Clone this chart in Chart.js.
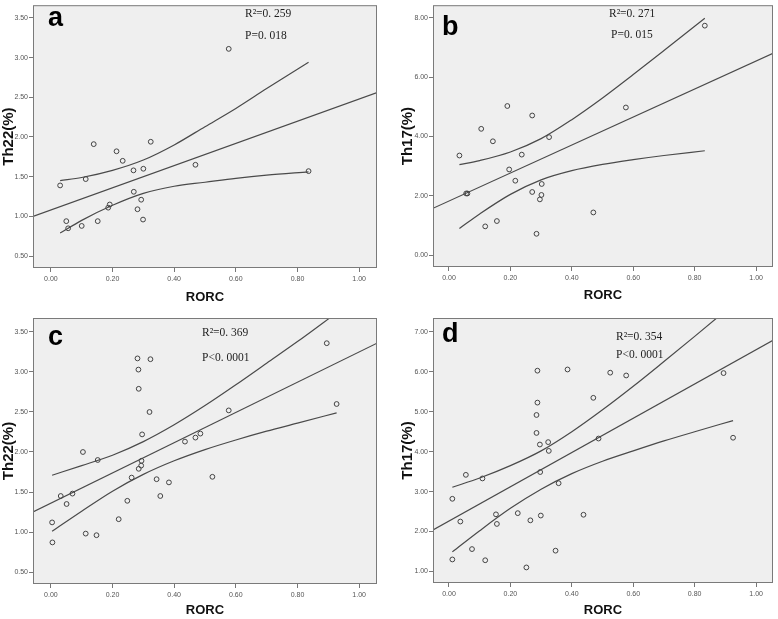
<!DOCTYPE html>
<html><head><meta charset="utf-8">
<script src="https://cdn.jsdelivr.net/npm/chart.js@4.4.1/dist/chart.umd.min.js"></script>
<style>
html,body{margin:0;padding:0;background:#fff;width:778px;height:619px;overflow:hidden}
canvas{position:absolute;display:block}
</style></head><body>
<canvas id="pa" width="389" height="305" style="left:0;top:0"></canvas>
<canvas id="pb" width="389" height="305" style="left:389px;top:0"></canvas>
<canvas id="pc" width="389" height="314" style="left:0;top:305px"></canvas>
<canvas id="pd" width="389" height="314" style="left:389px;top:305px"></canvas>
<script>
// ---------- data ----------
const xTickValues = [0, 0.2, 0.4, 0.6, 0.8, 1.0];
const aYTicks = [0.5, 1.0, 1.5, 2.0, 2.5, 3.0, 3.5];
const bYTicks = [0, 2, 4, 6, 8];
const cYTicks = [0.5, 1.0, 1.5, 2.0, 2.5, 3.0, 3.5];
const dYTicks = [1, 2, 3, 4, 5, 6, 7];

// panel a : RORC vs Th22 (n=21)
const aRORC = [0.030,0.050,0.056,0.100,0.113,0.139,0.152,0.186,0.191,0.213,0.233,0.268,0.269,0.281,0.293,0.299,0.300,0.324,0.469,0.577,0.836];
const aTh22 = [1.39,0.94,0.85,0.88,1.47,1.91,0.94,1.11,1.15,1.82,1.70,1.58,1.31,1.09,1.21,0.96,1.60,1.94,1.65,3.11,1.57];
const aFitX = [-0.058, 1.058];
const aFitY = [1.00, 2.56];
const aBandX = [0.03,0.1,0.2,0.3,0.4,0.5,0.6,0.7,0.836];
const aUpper = [1.45,1.49,1.58,1.71,1.90,2.13,2.36,2.61,2.94];
const aLower = [0.79,0.95,1.14,1.29,1.38,1.43,1.48,1.52,1.56];

// panel b : RORC vs Th17 (n=21)
const bRORC = [0.034,0.056,0.060,0.105,0.118,0.143,0.156,0.190,0.196,0.216,0.237,0.271,0.271,0.285,0.296,0.301,0.302,0.326,0.470,0.576,0.833];
const bTh17 = [3.36,2.08,2.08,4.26,0.97,3.84,1.15,5.03,2.89,2.51,3.39,4.71,2.13,0.72,1.88,2.03,2.40,3.98,1.44,4.98,7.74];
const bFitX = [-0.052, 1.055];
const bFitY = [1.58, 6.81];
const bBandX = [0.034,0.1,0.2,0.3,0.4,0.5,0.6,0.7,0.833];
const bUpper = [3.05,3.19,3.48,3.93,4.57,5.30,6.09,6.90,7.99];
const bLower = [0.90,1.39,2.05,2.54,2.85,3.06,3.22,3.36,3.52];

// panel c : RORC vs Th22 (n=31)
const cRORC = [0.004,0.005,0.032,0.051,0.070,0.104,0.113,0.148,0.152,0.220,0.248,0.262,0.281,0.284,0.285,0.285,0.293,0.294,0.296,0.320,0.323,0.343,0.355,0.383,0.435,0.469,0.485,0.524,0.577,0.895,0.927];
const cTh22 = [1.12,0.87,1.45,1.35,1.48,2.00,0.98,0.96,1.90,1.16,1.39,1.68,3.17,3.03,2.79,1.79,1.83,1.89,2.22,2.50,3.16,1.66,1.45,1.62,2.13,2.18,2.23,1.69,2.52,3.36,2.60];
const cFitX = [-0.058, 1.058];
const cFitY = [1.25, 3.36];
const cBandX = [0.004,0.1,0.2,0.3,0.4,0.5,0.6,0.7,0.8,0.927];
const cUpper = [1.71,1.83,1.96,2.13,2.34,2.58,2.84,3.11,3.38,3.74];
const cLower = [1.01,1.26,1.51,1.72,1.89,2.03,2.15,2.26,2.36,2.49];

// panel d : RORC vs Th17 (n=31)
const dRORC = [0.011,0.011,0.037,0.055,0.075,0.109,0.118,0.153,0.156,0.224,0.252,0.265,0.285,0.285,0.288,0.288,0.296,0.297,0.299,0.323,0.325,0.347,0.357,0.386,0.438,0.470,0.487,0.525,0.577,0.894,0.925];
const dTh17 = [2.82,1.30,2.25,3.42,1.56,3.33,1.28,2.43,2.19,2.46,1.10,2.28,4.47,4.92,5.23,6.03,4.18,3.49,2.40,4.24,4.02,1.52,3.21,6.06,2.42,5.35,4.33,5.98,5.91,5.97,4.35];
const dFitX = [-0.052, 1.055];
const dFitY = [2.04, 6.79];
const dBandX = [0.011,0.1,0.2,0.3,0.4,0.5,0.6,0.7,0.8,0.925];
const dUpper = [3.11,3.34,3.65,4.02,4.50,5.05,5.64,6.26,6.89,7.69];
const dLower = [1.49,2.02,2.58,3.06,3.45,3.76,4.02,4.27,4.50,4.78];

const panelLetters = ['a','b','c','d'];
const yTitles = ['Th22(%)','Th17(%)','Th22(%)','Th17(%)'];
const xTitle = 'RORC';
const statNotes = [
  ['R\u00B2=0. 259','P=0. 018'],
  ['R\u00B2=0. 271','P=0. 015'],
  ['R\u00B2=0. 369','P<0. 0001'],
  ['R\u00B2=0. 354','P<0. 0001']
];

// ---------- drawing ----------
const SANS = '"Liberation Sans", Arial, sans-serif';
const SERIF = '"Liberation Serif", "Times New Roman", serif';
const LINE = '#4a4a4a';

const zip = (xs, ys) => xs.map((x, i) => ({x: x, y: ys[i]}));

const decor = {
  id: 'decor',
  beforeDraw(chart) {
    const {ctx, chartArea: a} = chart;
    ctx.save();
    ctx.fillStyle = '#efefef';
    ctx.fillRect(a.left, a.top, a.right - a.left, a.bottom - a.top);
    ctx.restore();
  },
  afterDraw(chart, args, o) {
    const {ctx, chartArea: a} = chart;
    ctx.save();
    ctx.strokeStyle = '#7a7a7a';
    ctx.lineWidth = 1;
    ctx.strokeRect(a.left + 0.5, a.top + 0.5, a.right - a.left - 1, a.bottom - a.top - 1);
    ctx.fillStyle = '#000';
    ctx.textAlign = 'left';
    ctx.textBaseline = 'alphabetic';
    ctx.font = 'bold 27px ' + SANS;
    ctx.fillText(o.letter, o.lx, o.ly);
    ctx.fillStyle = '#222';
    ctx.font = '11.5px ' + SERIF;
    ctx.fillText(o.notes[0], o.nx, o.ny[0]);
    ctx.fillText(o.notes[1], o.nx2, o.ny[1]);
    ctx.restore();
  }
};

function makePanel(id, p) {
  const canvas = document.getElementById(id);
  const W = canvas.width, H = canvas.height;
  const lineDs = (data) => ({
    type: 'scatter', data: data, showLine: true, borderColor: LINE, borderWidth: 1.2,
    pointRadius: 0, cubicInterpolationMode: 'monotone', fill: false
  });
  new Chart(canvas, {
    type: 'scatter',
    data: {
      datasets: [
        {data: zip(p.xs, p.ys), pointStyle: 'circle', pointRadius: 2.4, pointBorderWidth: 1,
         pointBorderColor: '#444', pointBackgroundColor: 'rgba(0,0,0,0)', borderColor: '#444', showLine: false},
        lineDs(zip(p.fitX, p.fitY)),
        lineDs(zip(p.bandX, p.upper)),
        lineDs(zip(p.bandX, p.lower))
      ]
    },
    options: {
      responsive: false, animation: false, events: [],
      layout: {padding: {left: p.padL, top: p.area.top, right: W - p.area.right, bottom: 0}},
      plugins: {
        legend: {display: false}, tooltip: {enabled: false},
        decor: p.decor
      },
      scales: {
        x: {
          type: 'linear', min: p.xMin, max: p.xMax,
          afterBuildTicks: s => { s.ticks = xTickValues.map(v => ({value: v})); },
          ticks: {callback: v => Number(v).toFixed(2), font: {size: 7, family: SANS}, color: '#555',
                  padding: 3, maxRotation: 0, autoSkip: false},
          grid: {drawOnChartArea: false, drawTicks: true, tickLength: 4, color: '#777', lineWidth: 1},
          border: {display: false},
          title: {display: true, text: xTitle, font: {size: 13, weight: 'bold', family: SANS},
                  color: '#111', padding: {top: 0, bottom: p.xtPad}},
          afterFit: s => { s.height = H - p.area.bottom; }
        },
        y: {
          type: 'linear', min: p.yMin, max: p.yMax,
          afterBuildTicks: s => { s.ticks = p.yTicks.map(v => ({value: v})); },
          ticks: {callback: v => Number(v).toFixed(2), font: {size: 7, family: SANS}, color: '#555',
                  padding: 1, autoSkip: false},
          grid: {drawOnChartArea: false, drawTicks: true, tickLength: 4, color: '#777', lineWidth: 1},
          border: {display: false},
          title: {display: true, text: p.yTitle, font: {size: 15, weight: 'bold', family: SANS},
                  color: '#111', padding: {top: 0, bottom: 0}},
          afterFit: s => { s.width = p.area.left - p.padL; }
        }
      }
    },
    plugins: [decor]
  });
}

makePanel('pa', {
  xs: aRORC, ys: aTh22, fitX: aFitX, fitY: aFitY, bandX: aBandX, upper: aUpper, lower: aLower,
  yTicks: aYTicks, yTitle: yTitles[0], xMin: -0.058, xMax: 1.058, yMin: 0.35, yMax: 3.66,
  padL: 0, area: {left: 33, top: 3, right: 377, bottom: 268}, xtPad: 0,
  decor: {letter: panelLetters[0], lx: 48, ly: 26, notes: statNotes[0], nx: 245, nx2: 245, ny: [17, 39]}
});
makePanel('pb', {
  xs: bRORC, ys: bTh17, fitX: bFitX, fitY: bFitY, bandX: bBandX, upper: bUpper, lower: bLower,
  yTicks: bYTicks, yTitle: yTitles[1], xMin: -0.052, xMax: 1.055, yMin: -0.40, yMax: 8.43,
  padL: 10, area: {left: 44, top: 3, right: 387, bottom: 267}, xtPad: 2,
  decor: {letter: panelLetters[1], lx: 53, ly: 35, notes: statNotes[1], nx: 220, nx2: 222, ny: [17, 38]}
});
makePanel('pc', {
  xs: cRORC, ys: cTh22, fitX: cFitX, fitY: cFitY, bandX: cBandX, upper: cUpper, lower: cLower,
  yTicks: cYTicks, yTitle: yTitles[2], xMin: -0.058, xMax: 1.058, yMin: 0.35, yMax: 3.675,
  padL: 0, area: {left: 33, top: 13, right: 377, bottom: 279}, xtPad: 1,
  decor: {letter: panelLetters[2], lx: 48, ly: 40, notes: statNotes[2], nx: 202, nx2: 202, ny: [31, 56]}
});
makePanel('pd', {
  xs: dRORC, ys: dTh17, fitX: dFitX, fitY: dFitY, bandX: dBandX, upper: dUpper, lower: dLower,
  yTicks: dYTicks, yTitle: yTitles[3], xMin: -0.052, xMax: 1.055, yMin: 0.71, yMax: 7.35,
  padL: 10, area: {left: 44, top: 13, right: 387, bottom: 278}, xtPad: 1,
  decor: {letter: panelLetters[3], lx: 53, ly: 37, notes: statNotes[3], nx: 227, nx2: 227, ny: [35, 53]}
});
</script>
</body></html>
